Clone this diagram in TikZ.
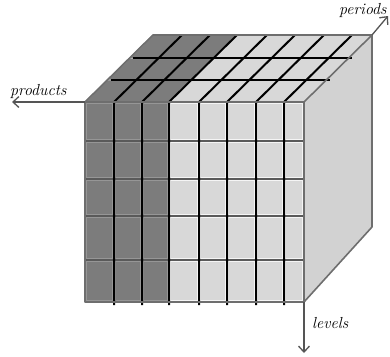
\documentclass[tikz,border=0pt]{standalone}
\usetikzlibrary{arrows.meta}
\definecolor{darkcell}{HTML}{7C7C7C}
\definecolor{lightcell}{HTML}{D8D8D8}
\definecolor{sideface}{HTML}{D2D2D2}
\definecolor{edgegray}{HTML}{6E6E6E}
\definecolor{axisgray}{HTML}{555555}
\definecolor{rowgray}{HTML}{5A5A5A}
\tikzset{
  cubeedge/.style={draw=edgegray, line width=1.6pt, line join=round},
  gridblack/.style={draw=black, line width=2pt},
  rowline/.style={draw=rowgray, line width=1.6pt},
  axisline/.style={draw=axisgray, line width=1.3pt, -{Straight Barb[length=6pt,width=11pt]}},
  axislabel/.style={font=\fontsize{16}{18}\selectfont\itshape, inner sep=0pt},
}
\begin{document}
\begin{tikzpicture}[x=1pt,y=-1pt]
\useasboundingbox (0,0) rectangle (390,356);
% right face
\fill[sideface] (304,102) -- (372,35) -- (372,227) -- (304,302) -- cycle;
% top face cells
\foreach \ca/\cb [count=\i] in {85/114,114/142,142/169,169/199,199/227,227/256,256/284,284/304}{
  \foreach \ta/\tb in {0/0.33,0.33/0.65,0.65/1}{
    \ifnum\i<4 \def\cf{darkcell}\def\cd{darkcell!60!white}\else\def\cf{lightcell}\def\cd{white!80!lightcell}\fi
    \filldraw[fill=\cf, draw=\cd, line width=1pt]
      (\ca+\ta*68, 102-\ta*67) -- (\cb+\ta*68, 102-\ta*67) --
      (\cb+\tb*68, 102-\tb*67) -- (\ca+\tb*68, 102-\tb*67) -- cycle;
  }
}
% front face cells
\foreach \ca/\cb [count=\i] in {85/114,114/142,142/169,169/199,199/227,227/256,256/284,284/304}{
  \foreach \ra/\rb in {102/141,141/179,179/216,216/260,260/302}{
    \ifnum\i<4 \def\cf{darkcell}\def\cd{darkcell!80!white}\else\def\cf{lightcell}\def\cd{white!75!lightcell}\fi
    \fill[\cf] (\ca,\ra) rectangle (\cb,\rb);
    \draw[\cd, line width=1pt] (\ca+1.5,\ra+1.5) rectangle (\cb-1.5,\rb-1.5);
  }
}
% row lines on front
\foreach \r in {141,179,216,260}{
  \draw[rowline] (85,\r) -- (304,\r);
}
% depth lines on top face
\foreach \t in {0.33,0.65}{
  \draw[gridblack] (85+\t*68+4, 102-\t*67) -- (304+\t*68+4, 102-\t*67);
}
% column lines
\foreach \c in {114,142,169,199,227,256,284}{
  \draw[gridblack, line join=round] (\c+68,35) -- (\c,102) -- (\c,305);
}
% cube outline
\draw[cubeedge] (85,102) rectangle (304,302);
\draw[cubeedge] (85,102) -- (153,35) -- (372,35) -- (304,102);
\draw[cubeedge] (372,35) -- (372,227) -- (304,302);
% axes
\coordinate (cfront) at (85,102);
\coordinate (cback) at (372,35);
\coordinate (cbottom) at (304,302);
\coordinate (prodEnd) at (12,102);
\coordinate (perEnd) at (388,16);
\coordinate (levEnd) at (304,353);
\draw[axisline] (cfront) -- (prodEnd);
\draw[axisline] (cback) -- (perEnd);
\draw[axisline] (cbottom) -- (levEnd);
\node[axislabel, anchor=base west] (lprod) at (10,95) {products};
\node[axislabel, anchor=base west] (lper) at (339,14) {periods};
\node[axislabel, anchor=base west] (llev) at (312,328) {levels};
\end{tikzpicture}
\end{document}
